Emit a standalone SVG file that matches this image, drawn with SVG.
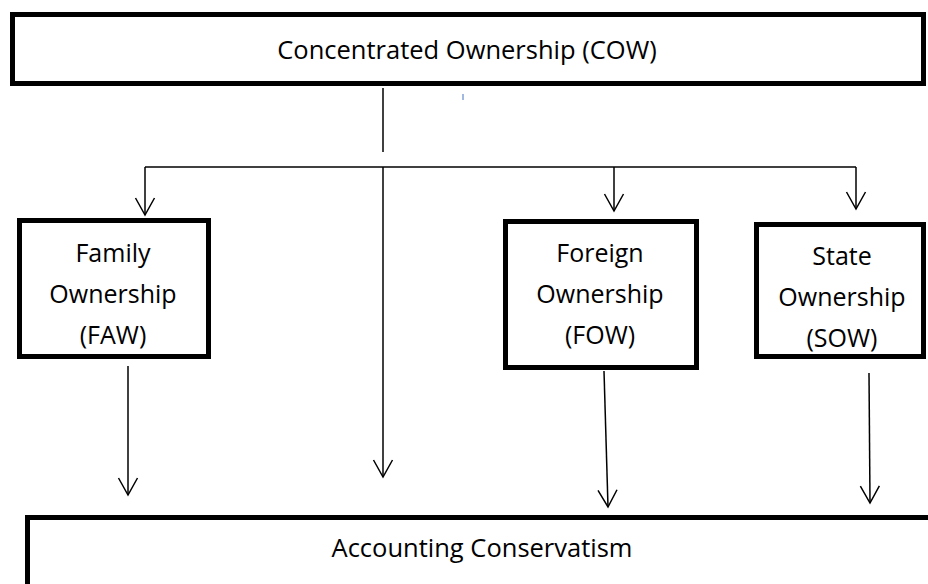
<svg xmlns="http://www.w3.org/2000/svg" width="928" height="584" viewBox="0 0 928 584">
<style>
.box{fill:#fff;stroke:#000;stroke-width:5}
.t{font-family:"Open Sans","Noto Sans","Liberation Sans",sans-serif;font-size:25px;fill:#000;text-anchor:middle}
.big{font-size:25.5px}
.ln{fill:none;stroke:#000;stroke-width:1.5}
</style>
<defs>
<marker id="arr" markerUnits="userSpaceOnUse" markerWidth="24" markerHeight="26" viewBox="-21 -13 24 26" refX="0" refY="0" orient="auto">
<path d="M-17,-9.5 L0,0 L-17,9.5" fill="none" stroke="#000" stroke-width="1.5"/>
</marker>
</defs>
<rect width="928" height="584" fill="#fff"/>
<g id="cow">
<rect class="box" x="12.5" y="14.5" width="911" height="69"/>
<text class="t big" x="467" y="59">Concentrated Ownership (COW)</text>
</g>
<g id="faw">
<rect class="box" x="19.5" y="220.5" width="189" height="136"/>
<text class="t" x="113" y="262">Family</text>
<text class="t" x="113" y="303">Ownership</text>
<text class="t" x="113" y="344">(FAW)</text>
</g>
<g id="fow">
<rect class="box" x="505.5" y="221.5" width="191" height="146"/>
<text class="t" x="600" y="262">Foreign</text>
<text class="t" x="600" y="303">Ownership</text>
<text class="t" x="600" y="344">(FOW)</text>
</g>
<g id="sow">
<rect class="box" x="756.5" y="224.5" width="167" height="132"/>
<text class="t" x="842" y="265">State</text>
<text class="t" x="842" y="306">Ownership</text>
<text class="t" x="842" y="347">(SOW)</text>
</g>
<g id="ac">
<rect class="box" x="27.5" y="517.5" width="920" height="120"/>
<text class="t big" x="482" y="557">Accounting Conservatism</text>
</g>
<g id="connectors">
<line class="ln" x1="383" y1="88" x2="383" y2="152"/>
<line x1="463" y1="94" x2="463" y2="100" stroke="#4472c4" stroke-width="1"/>
<line class="ln" x1="145" y1="167" x2="856" y2="167"/>
<line class="ln" x1="145" y1="167" x2="145" y2="215" marker-end="url(#arr)"/>
<line class="ln" x1="614" y1="167" x2="614" y2="211" marker-end="url(#arr)"/>
<line class="ln" x1="856" y1="167" x2="856" y2="209" marker-end="url(#arr)"/>
<line class="ln" x1="383" y1="167" x2="383" y2="477" marker-end="url(#arr)"/>
<line class="ln" x1="128" y1="366" x2="128" y2="495" marker-end="url(#arr)"/>
<line class="ln" x1="604" y1="371" x2="608" y2="507" marker-end="url(#arr)"/>
<line class="ln" x1="869" y1="373" x2="870" y2="503" marker-end="url(#arr)"/>
</g>
</svg>
